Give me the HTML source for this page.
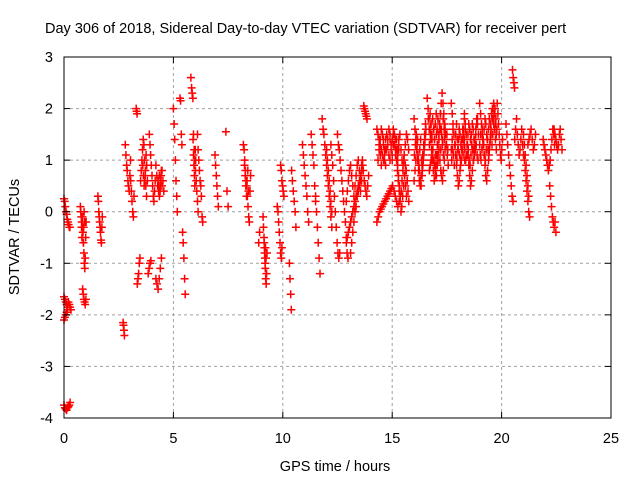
<!DOCTYPE html>
<html><head><meta charset="utf-8"><style>
body{margin:0;background:#fff}
svg{display:block;font-family:"Liberation Sans",sans-serif}
</style></head><body>
<svg id="chart" width="640" height="480" viewBox="0 0 640 480">
<rect width="640" height="480" fill="#fff"/>
<text x="45" y="33" font-size="14.5" fill="#000">Day 306 of 2018, Sidereal Day-to-day VTEC variation (SDTVAR) for receiver pert</text>
<g id="grid"></g>
<g id="marks"></g>
<rect x="64" y="57" width="547" height="361" fill="none" stroke="#000" stroke-width="1"/>
<g id="ticks"></g>
<text x="335" y="471" font-size="14.5" text-anchor="middle">GPS time / hours</text>
<text transform="translate(19,237) rotate(-90)" font-size="14.5" text-anchor="middle">SDTVAR / TECUs</text>
</svg>
<script>
const xTicks=[0,5,10,15,20,25];
const yTicks=[-4,-3,-2,-1,0,1,2,3];
// tracks: [startHour, stepHours, values...]
const tracks=[
[0.0,0.03,[0.25,0.2,0.1,0.0,-0.05,-0.15,-0.2,-0.25,-0.3,-0.3]],
[0.0,0.04,[-1.65,-1.7,-1.75,-1.8,-1.85,-1.75,-1.8,-1.85,-1.9]],
[0.0,0.04,[-2.1,-2.05,-2.0,-1.95,-1.9]],
[0.0,0.04,[-3.75,-3.8,-3.82,-3.85,-3.8,-3.78,-3.75,-3.7]],
[0.75,0.02,[0.1,0.0,-0.1,-0.2,-0.3,-0.1,-0.4,-0.6,-0.8,-1.0,-1.1,-0.9,-0.5,-0.2]],
[0.8,0.02,[-0.3,-0.5,-0.2,-0.4,-0.6,-0.3,0.0,-0.2]],
[0.85,0.03,[-1.5,-1.6,-1.7,-1.75,-1.8,-1.7]],
[1.55,0.02,[0.3,0.2,0.0,-0.1,-0.2,-0.3,-0.4,-0.55,-0.6,-0.3,-0.1]],
[2.7,0.02,[-2.15,-2.2,-2.3,-2.4]],
[2.8,0.03,[1.3,1.1,0.9,0.8,0.6,0.5,0.4,0.7,1.0]],
[3.05,0.03,[0.6,0.4,0.2,0.0,-0.1,0.3]],
[3.3,0.02,[2.0,1.95,1.9]],
[3.35,0.03,[-1.4,-1.3,-1.2,-1.0,-0.9]],
[3.5,0.03,[0.6,0.8,1.0,1.2,1.4,1.3,1.0,0.7,0.5,0.3]],
[3.6,0.03,[0.9,0.7,0.5,0.6,0.8,1.1,0.9,0.6]],
[3.85,0.04,[-1.2,-1.1,-1.0,-0.95]],
[3.9,0.03,[1.5,1.3,1.1,0.9,0.7,0.5,0.3,0.2,0.4,0.6]],
[4.2,0.04,[0.9,0.7,0.5,0.4,0.3,0.5,0.7,0.8,0.6,0.4]],
[4.3,0.03,[0.6,0.5,0.7,0.4,0.6,0.8,0.5]],
[4.2,0.05,[-1.3,-1.4,-1.5,-1.3,-1.1,-0.9]],
[5.0,0.03,[2.0,1.7,1.4,1.0,0.6,0.3,0.0]],
[5.3,0.03,[2.2,2.15,1.5,1.3,-0.4,-0.6,-0.9,-1.3,-1.6]],
[5.8,0.03,[2.6,2.4,2.3,2.2,1.5,1.2,1.0,0.8,0.6,0.4,0.2,0.0]],
[5.9,0.02,[1.4,1.1,0.9,0.7,0.5,1.2,1.0,0.6]],
[6.1,0.03,[1.5,1.2,1.0,0.8,0.6,0.5,0.3,-0.1,-0.2]],
[6.9,0.03,[1.1,0.9,0.7,0.5,0.3,0.1]],
[7.4,0.05,[1.55,0.4,0.1]],
[8.2,0.03,[1.3,1.2,1.0,0.8,0.6,0.5,0.3,0.1,-0.1,-0.2,0.4,0.7]],
[8.25,0.03,[0.9,0.7,0.5,0.3,0.6,0.8,0.4]],
[8.9,0.04,[-0.6,-0.4]],
[9.1,0.02,[-0.1,-0.3,-0.5,-0.7,-0.9,-1.1,-1.3,-1.4,-1.2,-0.8]],
[9.15,0.02,[-0.6,-0.8,-1.0,-0.7,-0.9,-1.2]],
[9.75,0.03,[0.1,0.0,-0.2,-0.4,-0.6,-0.8,-0.9,-0.7]],
[9.9,0.03,[0.9,0.8,0.6,0.5,0.4,0.3]],
[10.3,0.03,[-1.0,-1.3,-1.6,-1.9]],
[10.4,0.04,[0.8,0.6,0.4,0.2,0.0,-0.3]],
[10.9,0.04,[1.3,1.1,0.9,0.7,0.5,0.3,0.0,-0.2]],
[11.3,0.04,[1.5,1.3,1.1,0.9,0.5,0.2]],
[11.5,0.04,[0.3,0.0,-0.3,-0.6,-0.9,-1.2]],
[11.8,0.04,[1.8,1.6,1.5,1.3,1.1,0.9,0.7,0.5,0.3,0.1,-0.1,-0.3]],
[12.0,0.04,[1.2,1.0,0.8,0.6,0.4,0.2,0.0]],
[12.2,0.04,[1.3,1.1,0.9,0.6,0.3,0.0,-0.3,-0.6,-0.8,-0.9,-0.8]],
[12.5,0.04,[1.5,1.3,1.2,1.0,0.8,0.6,0.4,0.2,0.0,-0.2,-0.5,-0.8,-0.9]],
[12.9,0.05,[-0.6,-0.5,-0.4,-0.3,-0.2,-0.1,0.0,0.1,0.2,0.3,0.4,0.5,0.6,0.7,0.8,0.9]],
[12.9,0.05,[0.2,0.4,0.6,0.8,0.9,0.7,0.5,0.3,0.5,0.7,0.9,1.0,0.8,0.6]],
[13.1,0.05,[-0.8,-0.6,-0.4,-0.2,0.0,0.1,0.3,0.4,0.5,0.4,0.6]],
[13.7,0.03,[2.05,2.0,1.95,1.9,1.85,1.8]],
[13.6,0.04,[0.9,1.0,0.8,0.6,0.5,0.4,0.3,0.5,0.7]],
[14.3,0.06,[-0.2,-0.1,0.0,0.05,0.1,0.15,0.2,0.25,0.3,0.35,0.4,0.45,0.5,0.4,0.3,0.2,0.1,0.2]],
[14.3,0.05,[1.6,1.5,1.4,1.3,1.2,1.1,1.0,1.2,1.4,1.5,1.3,1.1,1.0,1.2,1.4,1.6,1.3,1.1,1.0,1.2,1.4,1.5,1.2,1.0,0.9,1.1,1.3,1.5,1.4,1.2]],
[14.4,0.05,[1.3,1.1,0.9,1.5,1.4,1.0,1.2,1.5,1.3,1.1,1.4,1.2,1.0,1.5,1.3,1.2,1.4,1.1,1.3,1.5]],
[14.35,0.05,[1.0,1.2,1.4,1.6,1.5,1.3,1.1,0.9,1.2,1.4,1.6,1.5,1.3,1.1,1.3,1.5,1.4,1.2,1.0,1.2]],
[15.2,0.04,[1.0,0.8,0.6,0.4,0.2,0.0,0.1,0.3,0.5,0.7,0.9,0.8,0.6,0.4,0.2]],
[15.25,0.04,[0.9,0.7,0.5,0.3,0.4,0.6,0.8,1.0,0.7,0.5,0.3,0.6]],
[16.0,0.04,[1.8,1.6,1.4,1.2,1.0,0.8,0.6,0.5,0.7,0.9,1.1,1.3,1.5,1.7]],
[16.0,0.04,[0.6,0.8,1.0,1.2,1.4,1.0,0.8,0.6,0.5,0.7,0.9,1.1,1.3,1.5]],
[16.02,0.04,[1.1,1.3,1.5,1.3,1.1,0.9,1.2,1.4,1.0,0.8,1.0,1.2,1.4,1.6]],
[16.6,0.04,[2.2,2.0,1.8,1.6,1.4,1.2,1.0,0.8,0.6,0.7,0.9,1.1,1.3,1.5,1.7,1.9,2.1,2.3,2.1,1.9,1.7,1.5,1.3,1.1,0.9]],
[16.7,0.04,[1.3,1.5,1.7,1.4,1.2,1.6,1.4,1.1,1.5,1.3,1.0,1.4,1.6,1.2,1.5,1.3,1.1,1.4,1.6,1.3,1.5,1.2]],
[16.7,0.04,[0.8,0.9,1.0,1.1,1.2,1.0,0.9,0.8,0.7,0.9,1.1,1.2,1.0,0.8,0.7,0.6,0.8,1.0,1.2,1.3]],
[16.65,0.04,[1.8,1.6,1.9,1.7,1.5,1.8,1.6,1.4,1.7,1.9,1.6,1.8,1.5,1.7,1.9,1.6,1.4,1.8,1.6,1.5]],
[17.7,0.04,[2.1,1.9,1.7,1.5,1.3,1.1,0.9,0.7,0.5,0.6,0.8,1.0,1.2,1.4,1.6,1.8]],
[17.7,0.04,[1.2,1.4,1.6,1.5,1.3,1.5,1.7,1.4,1.2,1.6,1.5,1.3,1.4,1.6,1.5,1.3]],
[17.72,0.04,[1.0,1.2,1.1,0.9,1.3,1.1,1.0,1.2,1.4,1.1,0.9,1.0,1.2,1.1,1.3,1.0]],
[18.3,0.04,[1.9,1.7,1.5,1.3,1.1,0.9,0.7,0.5,0.6,0.8,1.0,1.2,1.4,1.6,1.8,1.7,1.5]],
[18.3,0.04,[1.4,1.6,1.5,1.3,1.5,1.7,1.6,1.4,1.5,1.7,1.6,1.4,1.3,1.5,1.7,1.8]],
[18.32,0.04,[1.2,1.0,1.1,1.3,1.2,1.0,0.9,1.1,1.3,1.2,1.0,1.1,1.2,1.3,1.1,1.0]],
[19.0,0.04,[2.1,1.9,1.7,1.5,1.3,1.1,0.9,0.7,0.6,0.8,1.0,1.2,1.4,1.6,1.8,2.0,2.1,1.9,1.7,1.5]],
[19.0,0.04,[1.3,1.5,1.7,1.6,1.4,1.6,1.8,1.7,1.5,1.4,1.6,1.8,1.7,1.5,1.3,1.5,1.7,1.6,1.4,1.2]],
[19.02,0.04,[1.1,1.0,1.2,1.4,1.3,1.1,1.0,1.2,1.4,1.2,1.1,1.3,1.5,1.9,2.0,1.8,1.9,2.0,1.8,1.6]],
[19.8,0.03,[2.1,1.9,1.7,1.5,1.3,1.1,1.0,1.2,1.4]],
[20.5,0.03,[2.75,2.6,2.5,2.4]],
[20.2,0.04,[1.7,1.5,1.3,1.1,0.9,0.7,0.5,0.3,0.2]],
[20.6,0.04,[1.4,1.6,1.8,1.5,1.3,1.1,1.2,1.4,1.6,1.3,1.1,1.0,0.8,0.6,0.4,0.2,0.0,-0.1]],
[21.0,0.04,[1.5,1.3,1.1,0.9,0.7,0.5,0.3]],
[21.2,0.05,[1.3,1.4,1.5,1.6,1.4,1.2,1.3,1.5]],
[21.9,0.04,[1.4,1.3,1.2,1.1,1.0,0.9,0.8,0.9,1.0,1.2,1.4,1.6,1.5,1.3]],
[22.2,0.04,[0.5,0.3,0.1,-0.1,-0.2,-0.3,-0.2,-0.4]],
[22.4,0.04,[1.6,1.5,1.4,1.3,1.2,1.3,1.5,1.6,1.4,1.2]]
];
const NS="http://www.w3.org/2000/svg";
const X0=64,X1=611,Y0=418,Y1=57;
function sx(t){return X0+(t-0)/(25-0)*(X1-X0);}
function sy(v){return Y0-(v+4)/(3+4)*(Y0-Y1);}
function mk(tag,attrs,parent){const e=document.createElementNS(NS,tag);for(const k in attrs)e.setAttribute(k,attrs[k]);parent.appendChild(e);return e;}
const grid=document.getElementById('grid'),ticks=document.getElementById('ticks'),marks=document.getElementById('marks');
xTicks.forEach(t=>{
  const x=sx(t);
  if(t>0&&t<25){const g=mk('line',{x1:x,x2:x,y1:Y0,y2:Y1,stroke:'#a0a0a0','stroke-dasharray':'3,3'},grid);
  
  }
  mk('line',{x1:x,x2:x,y1:Y0,y2:Y0-6,stroke:'#000'},ticks);
  mk('line',{x1:x,x2:x,y1:Y1,y2:Y1+6,stroke:'#000'},ticks);
  const l=mk('text',{x:x,y:443,'font-size':14.5,'text-anchor':'middle'},ticks);l.textContent=t;
  
  
});
yTicks.forEach(v=>{
  const y=sy(v);
  if(v>-4&&v<3){const g=mk('line',{x1:X0,x2:X1,y1:y,y2:y,stroke:'#a0a0a0','stroke-dasharray':'3,3'},grid);
  
  }
  mk('line',{x1:X0,x2:X0+6,y1:y,y2:y,stroke:'#000'},ticks);
  mk('line',{x1:X1,x2:X1-6,y1:y,y2:y,stroke:'#000'},ticks);
  const l=mk('text',{x:53,y:y+5,'font-size':14.5,'text-anchor':'end'},ticks);l.textContent=v;
  
  
});
let d='';
tracks.forEach(tr=>{
  const t0=tr[0],dt=tr[1],vals=tr[2];
  vals.forEach((v,i)=>{
    const x=sx(t0+i*dt),y=sy(v);
    d+=`M${(x-4).toFixed(1)} ${y.toFixed(1)}h8M${x.toFixed(1)} ${(y-4).toFixed(1)}v8`;
  });
});
const p=mk('path',{d:d,stroke:'#ff0000','stroke-width':1.5,fill:'none'},marks);


</script>
</body></html>
